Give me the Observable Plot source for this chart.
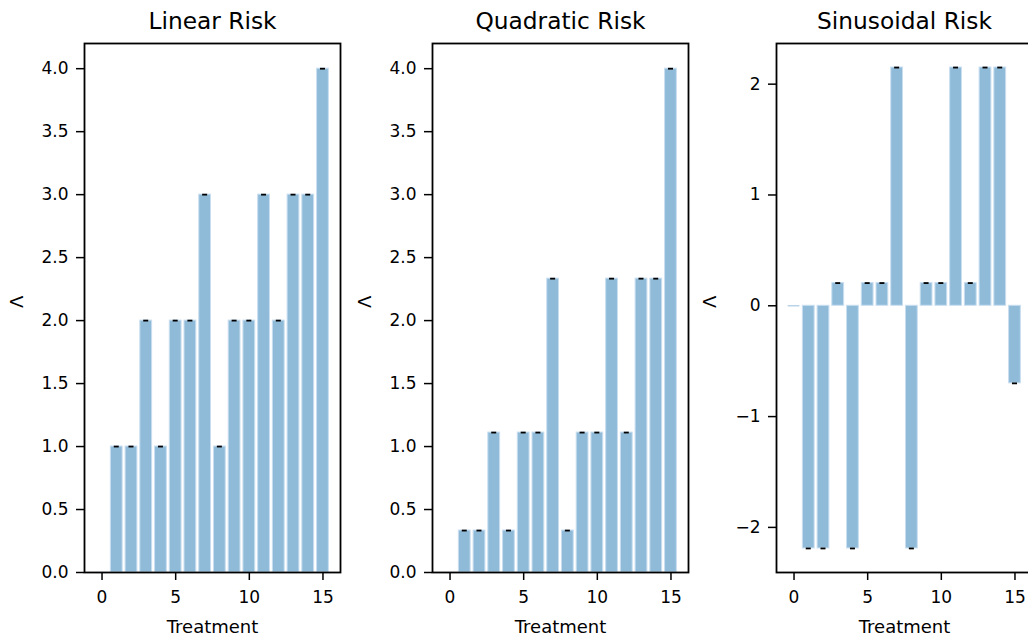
<!DOCTYPE html>
<html>
<head>
<meta charset="utf-8">
<script src="https://cdn.jsdelivr.net/npm/d3@7"></script>
<script src="https://cdn.jsdelivr.net/npm/@observablehq/plot@0.6"></script>
<style>
  html, body { margin: 0; padding: 0; background: #fff; overflow: hidden; }
  #wrap { position: relative; width: 1028px; height: 639px; overflow: hidden; }
  #wrap svg { position: absolute; top: 0; overflow: visible; }
</style>
</head>
<body>
<div id="wrap"></div>
<script>
const treatments = [0,1,2,3,4,5,6,7,8,9,10,11,12,13,14,15];
const linearRisk = [0,1,1,2,1,2,2,3,1,2,2,3,2,3,3,4];
const quadraticRisk = [0,0.333,0.333,1.111,0.333,1.111,1.111,2.333,0.333,1.111,1.111,2.333,1.111,2.333,2.333,4.0];
const sinusoidalRisk = [0,-2.19,-2.19,0.205,-2.19,0.205,0.205,2.15,-2.19,0.205,0.205,2.15,0.205,2.15,2.15,-0.70];
const titles = ["Linear Risk", "Quadratic Risk", "Sinusoidal Risk"];
const yTicksLinear = [0,0.5,1.0,1.5,2.0,2.5,3.0,3.5,4.0];
const yTicksSin = [-2,-1,0,1,2];
const xTicks = [0,5,10,15];

const panels = [
  {title: titles[0], values: linearRisk, yTicks: yTicksLinear, fmt: d3.format(".1f"), left: -6, labelDx: -67},
  {title: titles[1], values: quadraticRisk, yTicks: yTicksLinear, fmt: d3.format(".1f"), left: 341.5, labelDx: -67},
  {title: titles[2], values: sinusoidalRisk, yTicks: yTicksSin, fmt: d => d3.format("d")(d).replace("-", "\u2212"), left: 686, labelDx: -66}
];

const fontFamily = "DejaVu Sans, sans-serif";
const wrap = document.getElementById("wrap");

for (const p of panels) {
  const data = treatments.map((t, i) => ({t, v: p.values[i]}));
  const barW = 0.8;
  const xMin = d3.min(treatments) - barW / 2, xMax = d3.max(treatments) + barW / 2;
  const xPad = (xMax - xMin) * 0.05;
  const vMin = Math.min(0, d3.min(p.values)), vMax = Math.max(0, d3.max(p.values));
  const yPad = (vMax - vMin) * 0.05;
  const yDomain = [vMin < 0 ? vMin - yPad : 0, vMax + yPad];

  const chart = Plot.plot({
    width: 356,
    height: 639,
    marginLeft: 90,
    marginRight: 10,
    marginTop: 43,
    marginBottom: 67,
    style: {fontFamily, fontSize: "17px", color: "black", background: "transparent", overflow: "visible"},
    x: {domain: [xMin - xPad, xMax + xPad], ticks: xTicks},
    y: {domain: yDomain, ticks: p.yTicks},
    marks: [
      Plot.rectY(data, {
        x1: d => d.t - barW / 2, x2: d => d.t + barW / 2, y1: 0, y2: "v",
        fill: "#1f77b4", fillOpacity: 0.5, stroke: "#c9def0", strokeWidth: 1
      }),
      Plot.ruleY(data.filter(d => d.v === 0), {
        x1: d => d.t - barW / 2, x2: d => d.t + barW / 2, y: "v",
        stroke: "#a9c9e3", strokeWidth: 1.2
      }),
      Plot.ruleY(data.filter(d => d.v !== 0), {
        x1: d => d.t - 0.17, x2: d => d.t + 0.17, y: "v",
        stroke: "black", strokeWidth: 1.8
      }),
      Plot.frame({stroke: "black", strokeWidth: 1.8}),
      Plot.axisX({ticks: xTicks, tickSize: 8, tickPadding: 10, fontSize: 17, strokeWidth: 1.5, label: null, tickFormat: d3.format("d")}),
      Plot.axisY({ticks: p.yTicks, tickSize: 8, tickPadding: 8, fontSize: 17, strokeWidth: 1.5, label: null, tickFormat: p.fmt}),
      Plot.text([p.title], {frameAnchor: "top", lineAnchor: "bottom", dy: -14.7, fontSize: 23.3, fill: "black"}),
      Plot.text(["Treatment"], {frameAnchor: "bottom", lineAnchor: "bottom", dy: 60.4, fontSize: 18, fill: "black"}),
      Plot.text(["\u039B"], {frameAnchor: "left", rotate: -90, dx: p.labelDx, fontSize: 18, fill: "black"})
    ]
  });
  chart.style.left = p.left + "px";
  wrap.appendChild(chart);
}
</script>
</body>
</html>
